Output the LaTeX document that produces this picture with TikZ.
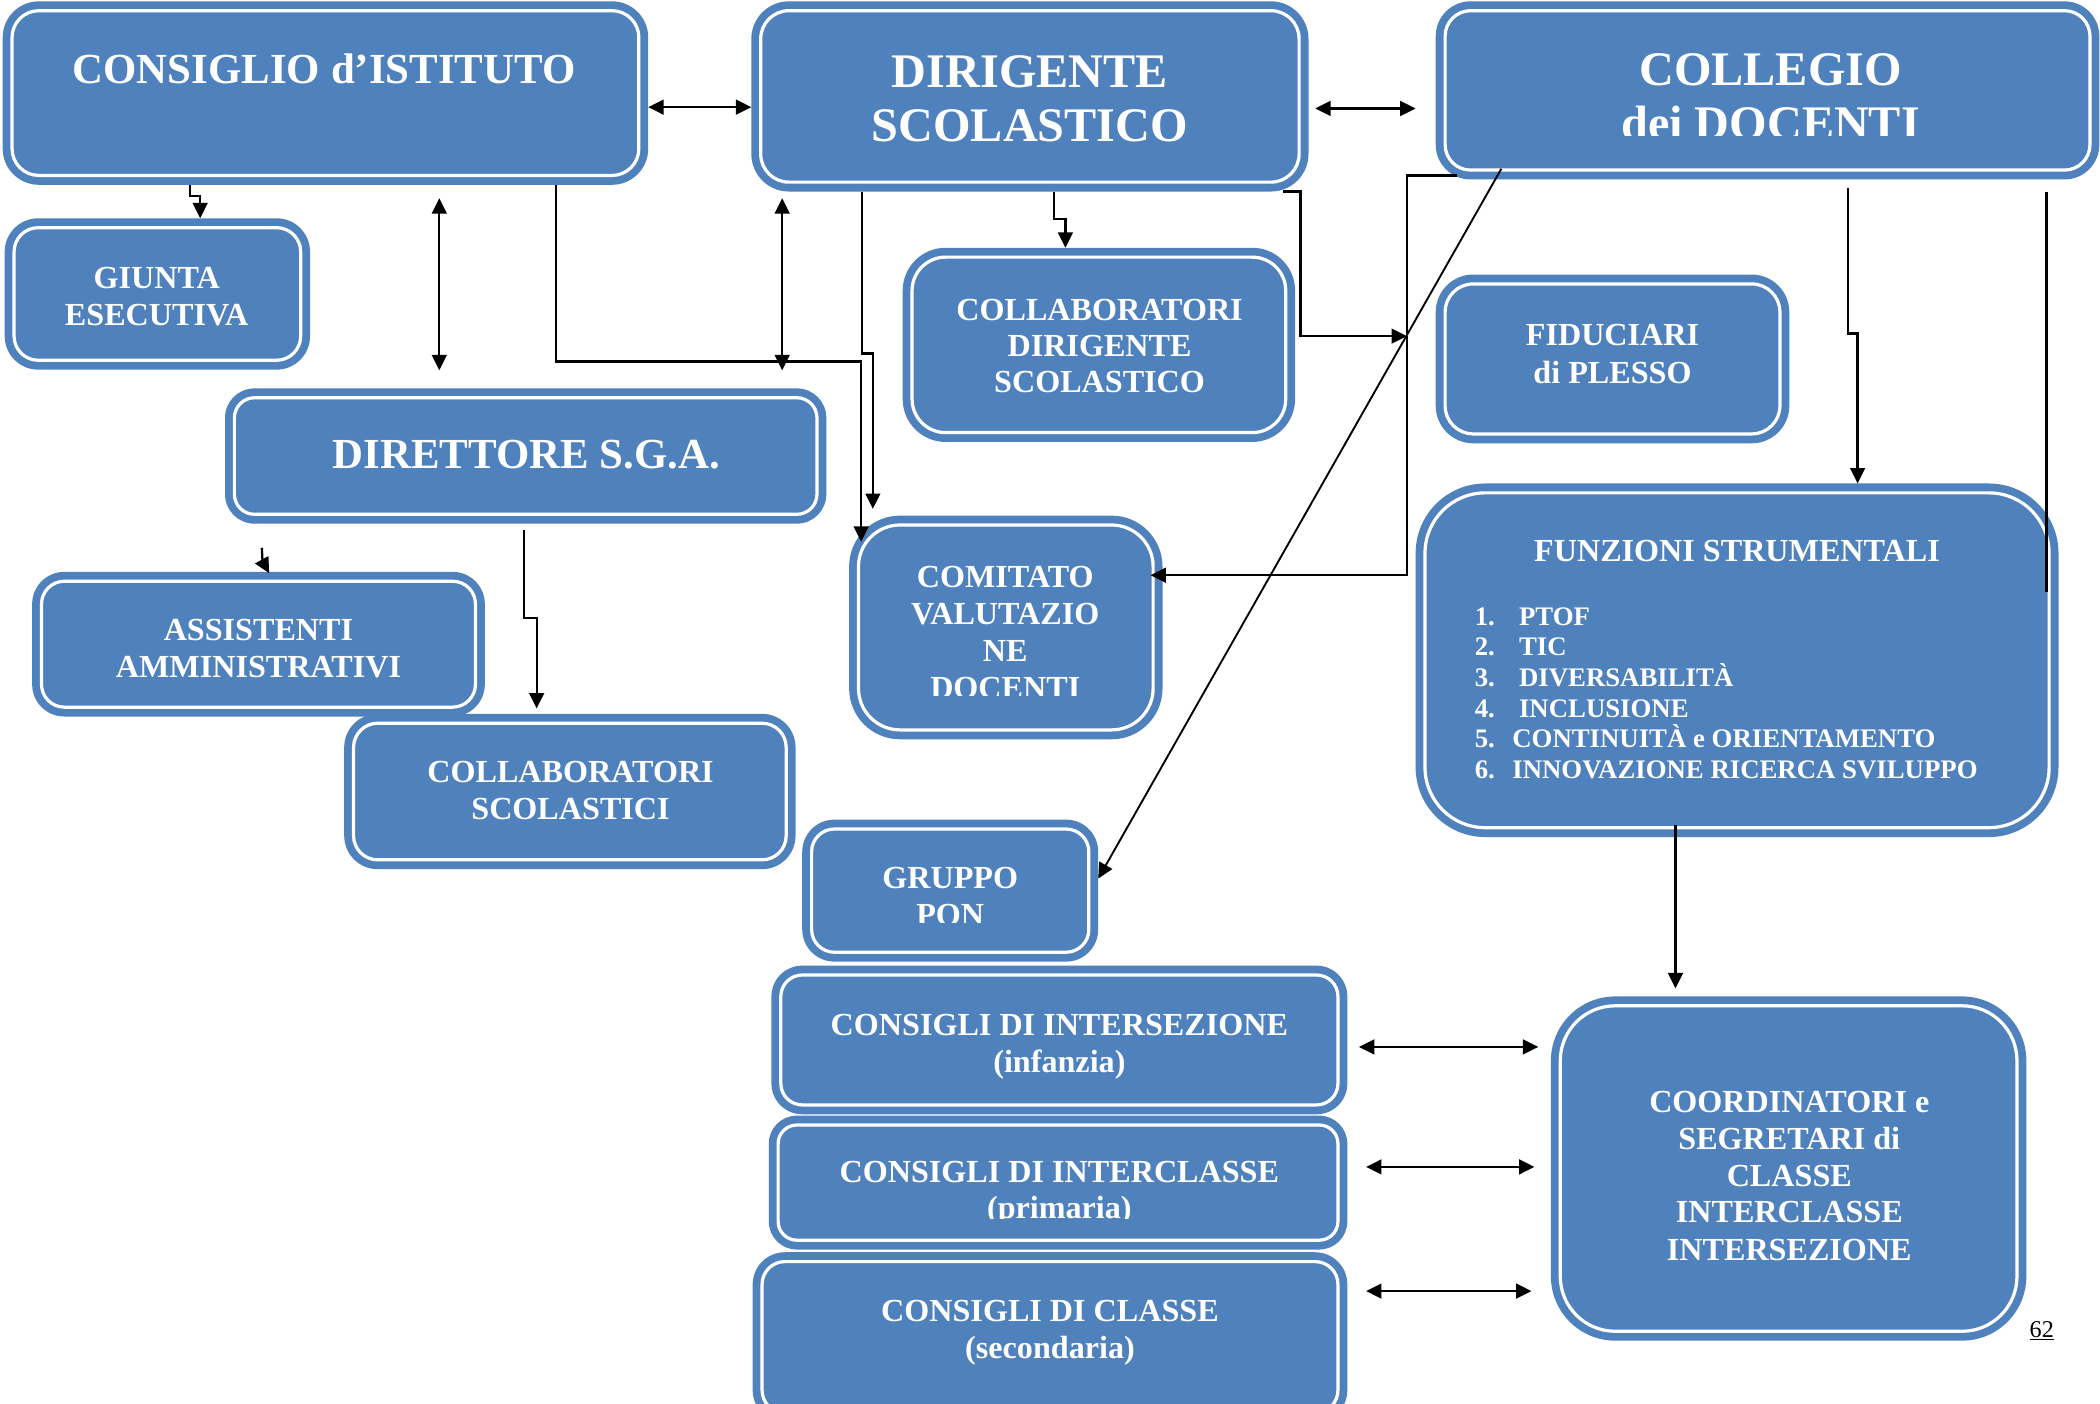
\documentclass[tikz,border=0pt]{standalone}
\usepackage{fontspec}
\setmainfont{Liberation Serif}
\usetikzlibrary{arrows.meta,fit,calc}
\definecolor{ablue}{RGB}{79,129,189}
\tikzset{
  tx/.style={anchor=base, text=white, inner sep=0pt, font=\fontsize{#1}{#1}\selectfont\bfseries},
  txl/.style={anchor=base west, text=white, inner sep=0pt, font=\fontsize{#1}{#1}\selectfont\bfseries},
  cn/.style={line width=1.7pt, black},
  arr/.style={cn, -{Triangle[length=11.5pt,width=11pt]}},
  darr/.style={cn, {Triangle[length=11.5pt,width=11pt]}-{Triangle[length=11.5pt,width=11pt]}},
}
\newcommand\obox[6]{%
  \node[fit={(#2,#3)(#4,#5)}, inner sep=0pt, outer sep=0pt, fill=ablue, rounded corners=#6pt] (#1) {};
  \draw[white, line width=2.4pt, rounded corners=\the\dimexpr#6pt-7pt\relax]
    ([shift={(7,7)}]#1.north west) rectangle ([shift={(-7,-7)}]#1.south east);
}
\begin{document}
\begin{tikzpicture}[x=1pt,y=-1pt]
\clip (0,0) rectangle (1568,1048);
\fill[white] (0,0) rectangle (1568,1048);
% ---------- boxes
\obox{cons}{2}{1}{484}{138}{27}
\obox{dir}{561}{1}{977}{143}{28}
\obox{coll}{1072}{1}{1567.5}{134}{26}
\obox{giunta}{3.5}{163}{231.5}{276}{25}
\obox{cdir}{674}{185}{967}{330}{32}
\obox{fid}{1072}{205}{1336}{331}{28}
\obox{dsga}{168}{290}{617}{391}{22}
\obox{ass}{24}{427}{362}{535}{24}
\obox{csc}{257}{533}{594}{649}{25}
\obox{com}{634}{385}{868}{552}{38}
\obox{pon}{599}{612}{820}{718}{24}
\obox{fun}{1057}{361}{1537}{625}{52}
\obox{inter}{576}{721}{1006}{832}{23}
\obox{intercl}{574}{833}{1006}{933}{21}
\obox{classe}{562}{935}{1006}{1062}{24}
\obox{coord}{1158}{744}{1513}{1001}{48}
% ---------- texts
\node[tx=32] (consT) at (242,62) {CONSIGLIO d’ISTITUTO};
\node[tx=36] (dirT1) at (769,65) {DIRIGENTE};
\node[tx=36] (dirT2) at (769,106) {SCOLASTICO};
\node[tx=36] (collT1) at (1322,63.5) {COLLEGIO};
\begin{scope}
\clip (1080,0) rectangle (1560,101.5);
\node[tx=36] (collT2) at (1322,104.5) {dei DOCENTI};
\end{scope}
\node[tx=24] (giuT1) at (117,215.3) {GIUNTA};
\node[tx=24] (giuT2) at (117,242.7) {ESECUTIVA};
\node[tx=32] (dsgaT) at (393,350) {DIRETTORE S.G.A.};
\node[tx=24] (assT1) at (193,478) {ASSISTENTI};
\node[tx=24] (assT2) at (193,505.6) {AMMINISTRATIVI};
\node[tx=24] (cscT1) at (426,584) {COLLABORATORI};
\node[tx=24] (cscT2) at (426,612) {SCOLASTICI};
\node[tx=24] (cdirT1) at (821,239) {COLLABORATORI};
\node[tx=24] (cdirT2) at (821,266) {DIRIGENTE};
\node[tx=24] (cdirT3) at (821,293) {SCOLASTICO};
\node[tx=24] (fidT1) at (1204,258) {FIDUCIARI};
\node[tx=24] (fidT2) at (1204,286) {di PLESSO};
\node[tx=24] (comT1) at (750.6,439) {COMITATO};
\node[tx=24] (comT2) at (750.6,466.5) {VALUTAZIO};
\node[tx=24] (comT3) at (750.6,494) {NE};
\begin{scope}
\clip (640,500) rectangle (860,519);
\node[tx=24] (comT4) at (750.6,521.5) {DOCENTI};
\end{scope}
\node[tx=24] (ponT1) at (709.5,663.5) {GRUPPO};
\begin{scope}
\clip (610,670) rectangle (810,689);
\node[tx=24] (ponT2) at (709.5,690.8) {PON};
\end{scope}
\node[tx=24] (funT) at (1297,419.5) {FUNZIONI STRUMENTALI};
\node[txl=20] (funL1) at (1101,467) {\makebox[33pt][l]{1.}PTOF};
\node[txl=20] (funL2) at (1101,489.5) {\makebox[33pt][l]{2.}TIC};
\node[txl=20] (funL3) at (1101,512.5) {\makebox[33pt][l]{3.}DIVERSABILITÀ};
\node[txl=20] (funL4) at (1101,535.5) {\makebox[33pt][l]{4.}INCLUSIONE};
\node[txl=20] (funL5) at (1101,558) {\makebox[28pt][l]{5.}CONTINUITÀ e ORIENTAMENTO};
\node[txl=20] (funL6) at (1101,581) {\makebox[28pt][l]{6.}INNOVAZIONE RICERCA SVILUPPO};
\node[tx=24] (interT1) at (791,773.5) {CONSIGLI DI INTERSEZIONE};
\node[tx=24] (interT2) at (791,800.6) {(infanzia)};
\node[tx=24] (interclT1) at (791,883) {CONSIGLI DI INTERCLASSE};
\begin{scope}
\clip (600,890) rectangle (990,909.5);
\node[tx=24] (interclT2) at (791,910) {(primaria)};
\end{scope}
\node[tx=24] (classeT1) at (784,986.6) {CONSIGLI DI CLASSE};
\node[tx=24] (classeT2) at (784,1014.5) {(secondaria)};
\node[tx=24] (coordT1) at (1336,831) {COORDINATORI e};
\node[tx=24] (coordT2) at (1336,858) {SEGRETARI di};
\node[tx=24] (coordT3) at (1336,885.6) {CLASSE};
\node[tx=24] (coordT4) at (1336,913) {INTERCLASSE};
\node[tx=24] (coordT5) at (1336,941.5) {INTERSEZIONE};
\node[anchor=base, inner sep=0pt, font=\fontsize{18}{18}\selectfont] (pg) at (1524.5,998.5) {\underline{62}};
% ---------- connector points
\coordinate (c2a) at (328,148);   \coordinate (c2b) at (328,276.5);
\coordinate (c4a) at (584,148);   \coordinate (c4b) at (584,276.5);
\coordinate (comTL) at (643,404.5);
\coordinate (comTop) at (651.7,380);
\coordinate (jn) at (1050.5,251);
\coordinate (c8s) at (1088,131);
\coordinate (comR) at (859,429.5);
\coordinate (c9s) at (1121,126);
\coordinate (c10s) at (1379.6,140.6);
\coordinate (c11a) at (1528,143); \coordinate (c11b) at (1528,442);
\coordinate (c12s) at (1251,616); \coordinate (c12e) at (1251,738);
\coordinate (c13s) at (195.5,409); \coordinate (c13e) at (201,428);
\coordinate (c14s) at (391.5,396); \coordinate (c14e) at (400.7,529);
\coordinate (c16a) at (982,81);   \coordinate (c16b) at (1057,81);
\coordinate (b1a) at (1014.6,781.7); \coordinate (b1b) at (1148.6,781.7);
\coordinate (b2a) at (1020,871.3);   \coordinate (b2b) at (1145.7,871.3);
\coordinate (b3a) at (1020,964);     \coordinate (b3b) at (1143.5,964);
% ---------- connectors
\draw[arr] (cons.south -| 142,0) -- (142,146.5) -- (149.5,146.5) -- (giunta.north -| 149.5,0);
\draw[darr] (c2a) -- (c2b);
\draw[darr] (c4a) -- (c4b);
\draw[arr] (cons.south -| 415,0) -- (415,270) -- (643,270) -- (comTL);
\draw[arr] (dir.south -| 643.5,0) -- (643.5,264) -- (651.7,264) -- (comTop);
\draw[arr] (dir.south -| 787,0) -- (787,163.6) -- (795.5,163.6) -- (cdir.north -| 795.5,0);
\draw[arr] (dir.south -| 958,0) -- (971,143) -- (971,251) -- (jn);
\draw[arr] (c8s) -- (1050.5,131) -- (1050.5,429.5) -- (comR);
\draw[arr, line width=1.4pt] (c9s) -- (pon.east |- 0,656);
\draw[arr] (c10s) -- (1379.6,249) -- (1387,249) -- (fun.north -| 1387,0);
\draw[cn] (c11a) -- (c11b);
\draw[arr] (c12s) -- (c12e);
\draw[arr] (c13s) -- (196,419) -- (c13e);
\draw[arr] (c14s) -- (391.5,461.6) -- (400.7,461.6) -- (c14e);
\draw[darr] (cons.east |- 0,80) -- (dir.west |- 0,80);
\draw[darr] (c16a) -- (c16b);
\draw[darr] (b1a) -- (b1b);
\draw[darr] (b2a) -- (b2b);
\draw[darr] (b3a) -- (b3b);
\end{tikzpicture}
\end{document}
